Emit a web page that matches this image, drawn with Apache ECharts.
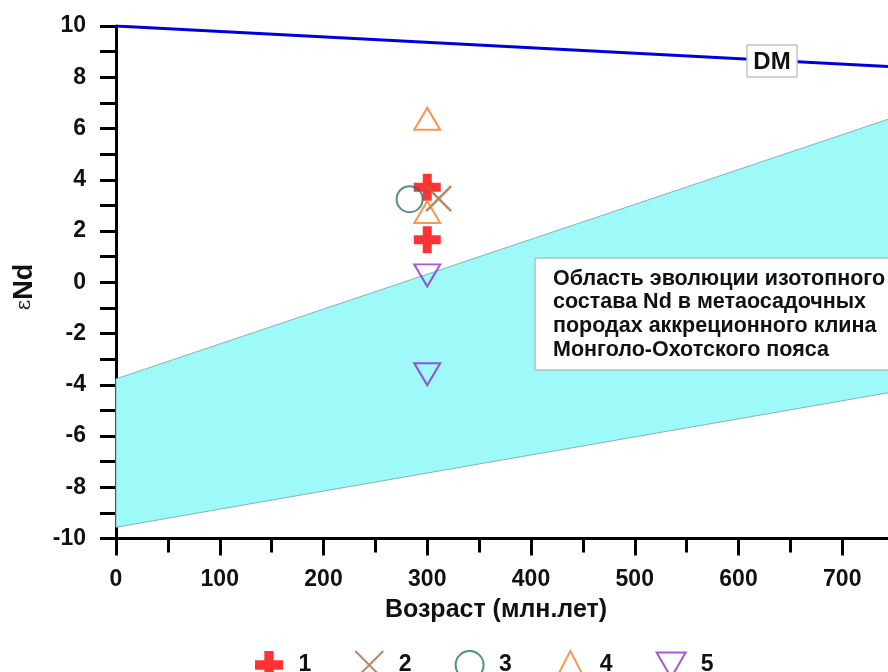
<!DOCTYPE html>
<html><head><meta charset="utf-8">
<script src="https://cdn.jsdelivr.net/npm/echarts@6/dist/echarts.min.js"></script>
<style>html,body{margin:0;padding:0;background:#fff}#c{width:888px;height:672px}</style>
</head><body><div id="c"></div>
<script>
// ---- data ----
const xAxisName = 'Возраст (млн.лет)';
const seriesNames = ['1', '2', '3', '4', '5'];
const dmX = [0, 800];
const dmY = [10, 8.30];
const bandX = [0, 800];
const bandUpper = [-3.77, 7.12];
const bandLower = [-9.56, -3.92];
const s1X = [300, 300], s1Y = [3.71, 1.66];
const s2X = [311], s2Y = [3.26];
const s3X = [283], s3Y = [3.24];
const s4X = [300, 300], s4Y = [6.38, 2.74];
const s5X = [300, 300], s5Y = [0.27, -3.59];
const bandText = 'Область эволюции изотопного\nсостава Nd в метаосадочных\nпородах аккреционного клина\nМонголо-Охотского пояса';
const dmText = 'DM';

const zip = (xs, ys) => xs.map((x, i) => [x, ys[i]]);
const FONT = '"Liberation Sans", Arial, Helvetica, sans-serif';

const chart = echarts.init(document.getElementById('c'), null, {renderer: 'canvas'});

const axisLineStyle = {color: '#000', width: 3};
const option = {
  animation: false,
  backgroundColor: '#fff',
  grid: {left: 116, top: 26, width: 830, bottom: 133.5, containLabel: false, outerBoundsMode: 'none'},
  xAxis: {
    type: 'value', min: 0, max: 800, interval: 100,
    axisLine: {onZero: false, lineStyle: axisLineStyle},
    axisTick: {length: 17, lineStyle: {color: '#000', width: 3}},
    minorTick: {show: true, splitNumber: 2, length: 14, lineStyle: {color: '#000', width: 3}},
    splitLine: {show: false},
    axisLabel: {margin: 30, fontSize: 23, fontWeight: 'bold', color: '#111', fontFamily: FONT, showMaxLabel: false}
  },
  yAxis: {
    type: 'value', min: -10, max: 10, interval: 2,
    axisLine: {onZero: false, lineStyle: axisLineStyle},
    axisTick: {length: 16, lineStyle: {color: '#000', width: 3}},
    minorTick: {show: true, splitNumber: 2, length: 16, lineStyle: {color: '#000', width: 3}},
    splitLine: {show: false},
    axisLabel: {margin: 30, fontSize: 23, fontWeight: 'bold', color: '#111', fontFamily: FONT}
  },
  legend: {
    left: 250, top: 645, itemWidth: 29, itemHeight: 28, itemGap: 43,
    data: seriesNames,
    textStyle: {fontSize: 23, fontWeight: 'bold', color: '#111', fontFamily: FONT, padding: [0, 0, 0, 10]},
    selectedMode: false
  },
  series: [
    {
      type: 'custom', silent: true, z: 1,
      data: bandX.map((x, i) => [x, bandUpper[i], bandLower[i]]),
      renderItem: function (params, api) {
        if (params.dataIndex !== 0) return null;
        const pts = [];
        for (let i = 0; i < bandX.length; i++) pts.push(api.coord([bandX[i], bandUpper[i]]));
        for (let i = bandX.length - 1; i >= 0; i--) pts.push(api.coord([bandX[i], bandLower[i]]));
        return {type: 'polygon', shape: {points: pts}, style: {fill: '#9ef9f9', stroke: '#84b4b4', lineWidth: 1}};
      }
    },
    {
      type: 'line', silent: true, z: 3, showSymbol: false, symbol: 'none',
      data: zip(dmX, dmY),
      lineStyle: {color: '#0000dd', width: 3}
    },
    {
      name: seriesNames[0], type: 'scatter', z: 5,
      symbol: 'path://M3,0H6V3H9V6H6V9H3V6H0V3H3Z', symbolSize: 27,
      itemStyle: {color: '#ff0000'},
      data: zip(s1X, s1Y)
    },
    {
      name: seriesNames[1], type: 'scatter', z: 5,
      symbol: 'path://M0,0L10,10M10,0L0,10', symbolSize: 25,
      itemStyle: {color: 'transparent', borderColor: '#a86a3c', borderWidth: 2.5},
      data: zip(s2X, s2Y)
    },
    {
      name: seriesNames[2], type: 'scatter', z: 5,
      symbol: 'circle', symbolSize: 26,
      itemStyle: {color: 'transparent', borderColor: '#277463', borderWidth: 2},
      data: zip(s3X, s3Y)
    },
    {
      name: seriesNames[3], type: 'scatter', z: 5,
      symbol: 'triangle', symbolSize: [26, 22],
      itemStyle: {color: 'transparent', borderColor: '#f07f2c', borderWidth: 2},
      data: zip(s4X, s4Y)
    },
    {
      name: seriesNames[4], type: 'scatter', z: 5,
      symbol: 'path://M0,0L10,0L5,8.6Z', symbolSize: [26, 22],
      itemStyle: {color: 'transparent', borderColor: '#8a2fcc', borderWidth: 2},
      data: zip(s5X, s5Y)
    }
  ],
  graphic: [
    {type: 'rect', z: 50, shape: {x: 535, y: 258, width: 400, height: 112},
     style: {fill: '#fff', stroke: '#aac4c4', lineWidth: 1.5}},
    {type: 'text', z: 51, x: 553, y: 267,
     style: {text: bandText, fontSize: 21.5, fontWeight: 'bold', fill: '#111', fontFamily: FONT, lineHeight: 23.7, verticalAlign: 'top'}},
    {type: 'rect', z: 50, shape: {x: 747, y: 45, width: 50, height: 32},
     style: {fill: '#fff', stroke: '#c4c4c4', lineWidth: 1.5}},
    {type: 'text', z: 51, x: 772, y: 62,
     style: {text: dmText, fontSize: 24, fontWeight: 'bold', fill: '#111', fontFamily: FONT, align: 'center', verticalAlign: 'middle'}},
    {type: 'text', z: 51, x: 496, y: 610,
     style: {text: xAxisName, fontSize: 25, fontWeight: 'bold', fill: '#111', fontFamily: FONT, align: 'center', verticalAlign: 'middle'}},
    {type: 'text', z: 51, x: 25, y: 287, rotation: Math.PI / 2,
     style: {text: '{e|ε}{b|Nd}', align: 'center', verticalAlign: 'middle', fill: '#111',
       rich: {e: {fontSize: 20, fontFamily: '"DejaVu Serif", serif', fill: '#111'},
              b: {fontSize: 27, fontWeight: 'bold', fontFamily: FONT, fill: '#111'}}}}
  ]
};
chart.setOption(option);
</script>
</body></html>
